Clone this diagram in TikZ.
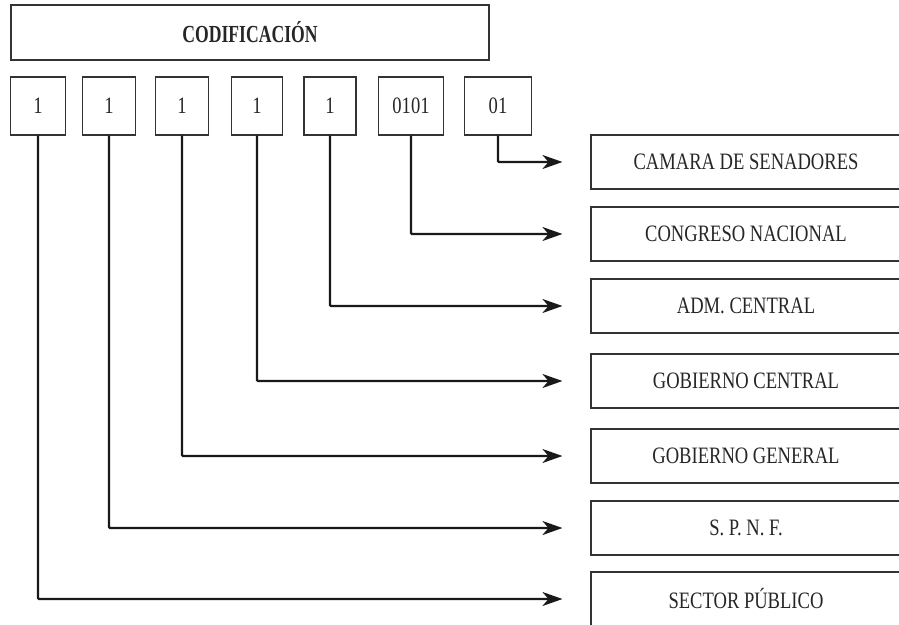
\documentclass[tikz,border=0pt]{standalone}
\usepackage{fontspec}
\setmainfont{Liberation Serif}[FakeStretch=0.79]
\newfontfamily\codfont{Liberation Serif}[FakeStretch=0.72]
\usepackage{tikz}
\usetikzlibrary{arrows.meta}

\tikzset{
  box/.style={draw=black!80,line width=1.1pt,rectangle,inner sep=0pt,text=black!85,
    font=\fontsize{23.5}{25}\selectfont},
  digit/.style={box,minimum width=53pt,minimum height=58pt},
  sector/.style={box,minimum width=310pt,minimum height=54pt},
  link/.style={line width=2.2pt,black!90,-{Stealth[length=20pt,width=14pt,inset=6pt]},
    shorten >=28pt,rounded corners=1pt}
}

\begin{document}
\begin{tikzpicture}[x=1pt,y=-1pt]
    \useasboundingbox (0,0) rectangle (899,624);
    \node[box,minimum width=478pt,minimum height=55pt,font=\codfont\bfseries\fontsize{24.5}{26}\selectfont] (cod) at (250,32.5) {CODIFICACIÓN};
    % digitos
    \node[digit,minimum width=55pt] (d1) at (38,106) {1};
    \node[digit] (d2) at (109,106) {1};
    \node[digit] (d3) at (182,106) {1};
    \node[digit,minimum width=51pt] (d4) at (257,106) {1};
    \node[digit,minimum width=52pt] (d5) at (330,106) {1};
    \node[digit,minimum width=65pt] (d6) at (411,106) {0101};
    \node[digit,minimum width=67pt] (d7) at (498,106) {01};
    % sectores
    \node[sector] (s7) at (746,162) {CAMARA DE SENADORES};
    \node[sector] (s6) at (746,234) {CONGRESO NACIONAL};
    \node[sector] (s5) at (746,306) {ADM. CENTRAL};
    \node[sector] (s4) at (746,381) {GOBIERNO CENTRAL};
    \node[sector] (s3) at (746,456) {GOBIERNO GENERAL};
    \node[sector] (s2) at (746,528) {S. P. N. F.};
    \node[sector] (s1) at (746,599) {SECTOR PÚBLICO};
    \foreach \i in {1,...,7}
      \draw[link] (d\i.south) |- (s\i.west);
  \end{tikzpicture}
\end{document}
